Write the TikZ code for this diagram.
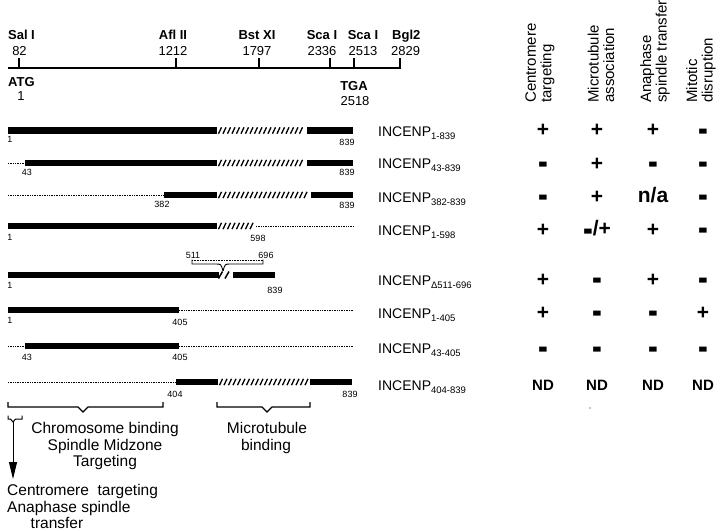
\documentclass[tikz,border=0pt]{standalone}
\usepackage{fontspec}
\usepackage{graphicx}
\setmainfont{Liberation Sans}
\usetikzlibrary{arrows.meta}
\newcommand\segbar[3]{\fill (#2,#1-3.2) rectangle (#3,#1+3.2);}
\newcommand\segdot[3]{\draw[dline] (#2,#1) -- (#3,#1);}
\newcommand\seghatch[2]{\foreach \hx in {#2}{\draw[hline] (\hx-1.5,#1+3.2) -- (\hx+1.5,#1-3.2);}}
\newcommand\thk{\vphantom{+}\raisebox{-6.8pt}[0pt][0pt]{\scalebox{1.4}[2]{-}}}
\newcommand\sub[1]{\raisebox{-3.5pt}{\fontsize{9.5}{10}\selectfont #1}}
\begin{document}
\begin{tikzpicture}[x=1pt,y=-1pt,
  maplbl/.style={font=\fontsize{13}{15}\selectfont\bfseries, inner sep=0, anchor=base},
  mapnum/.style={font=\fontsize{13}{15}\selectfont, inner sep=0, anchor=base},
  posn/.style={font=\fontsize{9}{10}\selectfont, inner sep=0, anchor=base},
  rowlbl/.style={font=\fontsize{14}{16}\selectfont, inner sep=0, anchor=base west},
  sym/.style={font=\fontsize{21}{22}\selectfont\bfseries, inner sep=0},
  ndsym/.style={font=\fontsize{15}{16}\selectfont\bfseries, inner sep=0},
  hdr/.style={font=\fontsize{15}{15.5}\selectfont, rotate=90, align=left, anchor=west, inner sep=0},
  bigtxt/.style={font=\fontsize{15.5}{17}\selectfont, inner sep=0, anchor=base},
  dline/.style={densely dotted, line width=0.7pt},
  hline/.style={line width=1.3pt},
  brace/.style={line width=1.1pt},
  tick/.style={line width=1.1pt}]
\useasboundingbox (0,0) rectangle (720,530);

% ---- restriction map ----
\draw[line width=2.3pt] (8,68) -- (354,68);
\draw[line width=1.2pt] (353,68) -- (400,68) -- (400,57.5);
\foreach \tx in {19,176,259,330,354}{\draw[tick] (\tx,68) -- (\tx,57.5);}
\node[maplbl] (sal) at (21.5,39) {Sal I};
\node[mapnum] (n82) at (19.5,55) {82};
\node[maplbl] (afl) at (173,39) {Afl II};
\node[mapnum] (n1212) at (173,55) {1212};
\node[maplbl] (bst) at (257,39) {Bst XI};
\node[mapnum] (n1797) at (257,55) {1797};
\node[maplbl] (sca1) at (322,39) {Sca I};
\node[mapnum] (n2336) at (322,55) {2336};
\node[maplbl] (sca2) at (363,39) {Sca I};
\node[mapnum] (n2513) at (363,55) {2513};
\node[maplbl, anchor=base west] (bgl) at (392,39) {Bgl2};
\node[mapnum, anchor=base west] (n2829) at (391,55) {2829};
\node[maplbl, anchor=base west] (atg) at (8,86) {ATG};
\node[mapnum] (n1) at (21,100) {1};
\node[maplbl] (tga) at (354,90) {TGA};
\node[mapnum] (n2518) at (355,105) {2518};

% ---- constructs ----
% row 1
\segbar{130.5}{8}{217}
\seghatch{130.5}{220,224.5,...,305}
\segbar{130.5}{307}{353}
\node[posn] (r1a) at (10,142) {1};
\node[posn] (r1b) at (347,145) {839};
% row 2
\segdot{163}{8}{25}
\segbar{163}{25}{217}
\seghatch{163}{220,224.5,...,305}
\segbar{163}{307}{353}
\node[posn] (r2a) at (27,175) {43};
\node[posn] (r2b) at (347,175) {839};
% row 3
\segdot{195}{8}{164}
\segbar{195}{164}{217}
\seghatch{195}{220,224.5,...,309}
\segbar{195}{311}{353}
\node[posn] (r3a) at (162,207) {382};
\node[posn] (r3b) at (347,208) {839};
% row 4
\segbar{226}{8}{217}
\seghatch{226}{220,224.5,...,253}
\segdot{226}{256}{353}
\node[posn] (r4a) at (10,240) {1};
\node[posn] (r4b) at (258,241) {598};
% row 5
\segbar{275}{8}{219}
\segbar{275}{233}{275}
\draw[line width=1.5pt] (218.5,278.5) -- (222.5,271.5) (225,278.5) -- (229,271.5);
\draw[dline, line width=0.6pt] (192,260) -- (263,260);
\draw[line width=0.9pt] (192,259.5) -- (192,264) -- (216,264) .. controls (221,264) .. (223,271);
\draw[line width=0.9pt] (263,259.5) -- (263,264) -- (230,264) .. controls (225,264) .. (223,271);
\node[posn] (r5c) at (193,258) {511};
\node[posn] (r5d) at (266,258) {696};
\node[posn] (r5a) at (10,288) {1};
\node[posn] (r5b) at (275,293) {839};
% row 6
\segbar{310}{8}{179}
\segdot{310}{179}{353}
\node[posn] (r6a) at (10,323) {1};
\node[posn] (r6b) at (180,325) {405};
% row 7
\segdot{346}{8}{25}
\segbar{346}{25}{179}
\segdot{346}{179}{353}
\node[posn] (r7a) at (27,360) {43};
\node[posn] (r7b) at (180,360) {405};
% row 8
\segdot{382}{8}{176}
\segbar{382}{176}{218}
\seghatch{382}{221,225.5,...,307}
\segbar{382}{310}{352}
\node[posn] (r8a) at (175,397) {404};
\node[posn] (r8b) at (350,397) {839};

% ---- row labels ----
\node[rowlbl] (l1) at (378,136) {INCENP\sub{1-839}};
\node[rowlbl] (l2) at (378,168) {INCENP\sub{43-839}};
\node[rowlbl] (l3) at (378,202) {INCENP\sub{382-839}};
\node[rowlbl] (l4) at (378,235) {INCENP\sub{1-598}};
\node[rowlbl] (l5) at (378,285) {INCENP\sub{Δ511-696}};
\node[rowlbl] (l6) at (378,318) {INCENP\sub{1-405}};
\node[rowlbl] (l7) at (378,353) {INCENP\sub{43-405}};
\node[rowlbl] (l8) at (378,390) {INCENP\sub{404-839}};

% ---- column headers ----
\node[hdr] (h1) at (540,103) {Centromere\\targeting};
\node[hdr] (h2) at (601,103) {Microtubule\\association};
\node[hdr] (h3) at (655,103) {Anaphase\\spindle transfer};
\node[hdr] (h4) at (701,103) {Mitotic\\disruption};

% ---- table ----
\node[sym] (s11) at (543,130) {+};
\node[sym] (s12) at (597,130) {+};
\node[sym] (s13) at (653,130) {+};
\node[sym] (s14) at (703,130) {\thk};
\node[sym] (s21) at (543,163) {\thk};
\node[sym] (s22) at (597,164) {+};
\node[sym] (s23) at (653,163) {\thk};
\node[sym] (s24) at (703,163) {\thk};
\node[sym] (s31) at (543,196) {\thk};
\node[sym] (s32) at (597,197) {+};
\node[sym] (s33) at (653,195) {n/a};
\node[sym] (s34) at (703,196) {\thk};
\node[sym] (s41) at (543,230) {+};
\node[sym] (s42) at (597,228) {\thk/+};
\node[sym] (s43) at (653,230) {+};
\node[sym] (s44) at (703,229) {\thk};
\node[sym] (s51) at (543,280) {+};
\node[sym] (s52) at (597,279) {\thk};
\node[sym] (s53) at (653,280) {+};
\node[sym] (s54) at (703,279) {\thk};
\node[sym] (s61) at (543,313) {+};
\node[sym] (s62) at (597,312) {\thk};
\node[sym] (s63) at (653,312) {\thk};
\node[sym] (s64) at (703,313) {+};
\node[sym] (s71) at (543,348) {\thk};
\node[sym] (s72) at (597,348) {\thk};
\node[sym] (s73) at (653,348) {\thk};
\node[sym] (s74) at (703,348) {\thk};
\node[ndsym] (s81) at (543,385) {ND};
\node[ndsym] (s82) at (597,385) {ND};
\node[ndsym] (s83) at (653,385) {ND};
\node[ndsym] (s84) at (703,385) {ND};
\fill (590,408) circle (0.7);

% ---- bottom braces ----
\draw[brace] (8,402) -- (8,407) -- (78,407) -- (83,412) -- (88,407) -- (163,407) -- (163,402);
\draw[brace] (217,402) -- (217,407) -- (262,407) -- (267,412) -- (272,407) -- (310,407) -- (310,402);
\draw[line width=1pt] (8,415.5) -- (8,419) -- (10.5,419) -- (13,422) -- (15.5,419) -- (22,419) -- (22,415.5);
\coordinate (sbtip) at (13,422);
\coordinate (arrtip) at (13,479);
\draw[line width=0.9pt, -{Triangle[length=17pt,width=8pt]}] (sbtip) -- (arrtip);

\node[bigtxt] (cb1) at (105,433) {Chromosome binding};
\node[bigtxt] (cb2) at (105,450) {Spindle Midzone};
\node[bigtxt] (cb3) at (105,466) {Targeting};
\node[bigtxt] (mb1) at (267,433) {Microtubule};
\node[bigtxt] (mb2) at (266,450) {binding};
\node[bigtxt, anchor=base west] (ct1) at (7,495) {Centromere~ targeting};
\node[bigtxt, anchor=base west] (ct2) at (7,512) {Anaphase spindle};
\node[bigtxt] (ct3) at (57,528) {transfer};
\end{tikzpicture}
\end{document}
